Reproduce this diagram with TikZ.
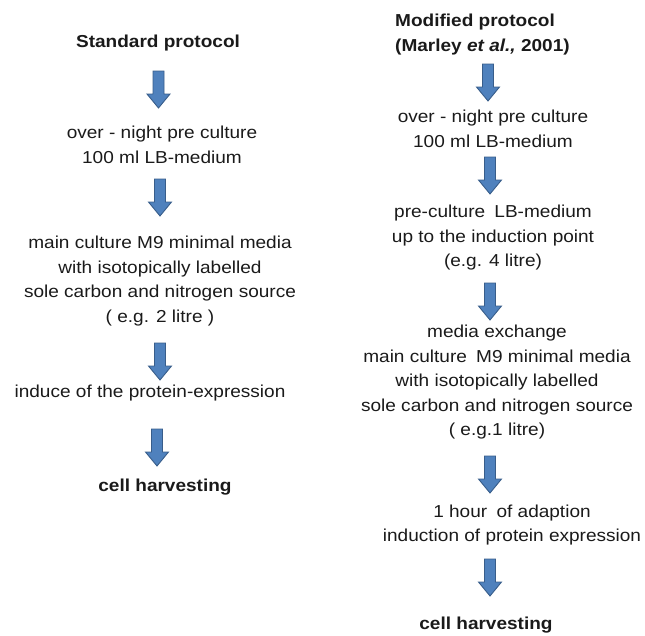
\documentclass[tikz,border=0pt]{standalone}
\usepackage{fontspec}
\setmainfont[FakeStretch=1.1]{Liberation Sans}
\definecolor{arrowfill}{HTML}{4F81BD}
\definecolor{arrowline}{HTML}{385D8A}
\definecolor{textcol}{HTML}{1A1A1A}
\begin{document}
\begin{tikzpicture}[x=1pt,y=1pt,
  every node/.style={inner sep=0pt, text=textcol, font=\fontsize{17.3}{24.5}\selectfont},
  stepbox/.style={align=center},
  titlebox/.style={align=left, font=\fontsize{17.3}{25}\selectfont\bfseries},
  blockarrow/.pic={
    \draw[fill=arrowfill, draw=arrowline, line width=0.9pt, line join=miter]
      (-5.5,0) -- (-5.5,-23) -- (-11.5,-23) -- (0,-37) -- (11.5,-23)
      -- (5.5,-23) -- (5.5,0) -- cycle;
  }]
\useasboundingbox (0,0) rectangle (645,-635);

% ---- standard protocol ----
\node[titlebox, align=center] (stdtitle) at (158,-43) {Standard protocol};
\pic (sa1) at (158.5,-71) {blockarrow};
\node[stepbox] (s1) at (162,-145) {over - night pre culture\\100 ml LB-medium};
\pic (sa2) at (160,-179) {blockarrow};
\node[stepbox] (s2) at (160,-281) {main culture M9 minimal media\\with isotopically labelled\\sole carbon and nitrogen source\\( e.g. 2 litre )};
\pic (sa3) at (160,-343) {blockarrow};
\node[stepbox] (s3) at (150,-393) {induce of the protein-expression};
\pic (sa4) at (157,-429) {blockarrow};
\node[stepbox, font=\fontsize{17.3}{24.5}\selectfont\bfseries] (s4) at (165,-487) {cell harvesting};

% ---- modified protocol ----
\node[titlebox, anchor=west] (modtitle) at (395,-34.5) {Modified protocol\\(Marley \textit{et al.,} 2001)};
\pic (ma1) at (488,-64) {blockarrow};
\node[stepbox] (m1) at (493,-129) {over - night pre culture\\100 ml LB-medium};
\pic (ma2) at (490,-157) {blockarrow};
\node[stepbox] (m2) at (493,-238) {pre-culture\hspace{4pt} LB-medium\\up to the induction point\\(e.g. 4 litre)};
\pic (ma3) at (490,-283) {blockarrow};
\node[stepbox] (m3) at (497,-382.5) {media exchange\\main culture\hspace{4pt} M9 minimal media\\with isotopically labelled\\sole carbon and nitrogen source\\( e.g.1 litre)};
\pic (ma4) at (490,-456) {blockarrow};
\node[stepbox] (m4) at (512,-525) {1 hour\hspace{4pt} of adaption\\induction of protein expression};
\pic (ma5) at (490,-559) {blockarrow};
\node[stepbox, font=\fontsize{17.3}{24.5}\selectfont\bfseries] (m5) at (486,-625) {cell harvesting};
\end{tikzpicture}
\end{document}
